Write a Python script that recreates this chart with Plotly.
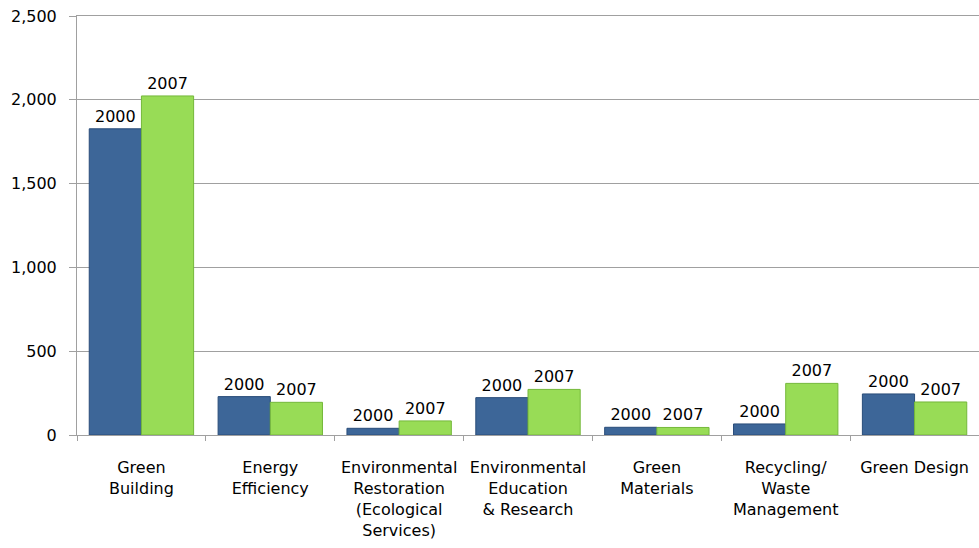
import plotly.graph_objects as go

categories = [
    "Green<br>Building",
    "Energy<br>Efficiency",
    "Environmental<br>Restoration<br>(Ecological<br>Services)",
    "Environmental<br>Education<br>& Research",
    "Green<br>Materials",
    "Recycling/<br>Waste<br>Management",
    "Green Design",
]
series_names = ["2000", "2007"]
values_2000 = [1827, 229, 40, 223, 46, 66, 245]
values_2007 = [2023, 195, 84, 272, 45, 308, 197]

fills = ["#3D6698", "#98DC56"]
edges = ["#2A4D7A", "#74B83A"]

fig = go.Figure()
for name, vals, fc, ec in zip(series_names, [values_2000, values_2007], fills, edges):
    fig.add_trace(go.Bar(
        x=categories, y=vals, name=name,
        text=[name] * len(vals), textposition="outside",
        textfont=dict(family="DejaVu Sans", size=16, color="black"),
        cliponaxis=False,
        marker=dict(color=fc, line=dict(color=ec, width=1)),
    ))

fig.update_layout(
    width=979, height=548,
    margin=dict(l=77, r=0, t=16, b=113),
    paper_bgcolor="white", plot_bgcolor="white",
    barmode="group", bargap=0.19, bargroupgap=0,
    showlegend=False,
    font=dict(family="DejaVu Sans", size=16, color="black"),
)
fig.update_xaxes(
    type="category", tickson="boundaries", ticks="outside", ticklen=5,
    tickcolor="#A0A0A0", showline=True, linecolor="#A0A0A0", linewidth=1,
    mirror=True,
    showgrid=False, ticklabelstandoff=18,
    tickfont=dict(family="DejaVu Sans", size=16, color="black"),
)
fig.update_yaxes(
    range=[0, 2500], tickvals=[0, 500, 1000, 1500, 2000, 2500],
    tickformat=",", ticks="outside", ticklen=7,
    tickcolor="#A0A0A0", showline=True, linecolor="#A0A0A0", linewidth=1,
    showgrid=True, gridcolor="#A0A0A0", gridwidth=1, zeroline=False,
    ticklabelstandoff=9,
    tickfont=dict(family="DejaVu Sans", size=16, color="black"),
)

fig.write_html(
    "out.html",
    config={"displayModeBar": False},
    post_script="document.body.style.margin='0';document.body.style.overflow='hidden';",
)
